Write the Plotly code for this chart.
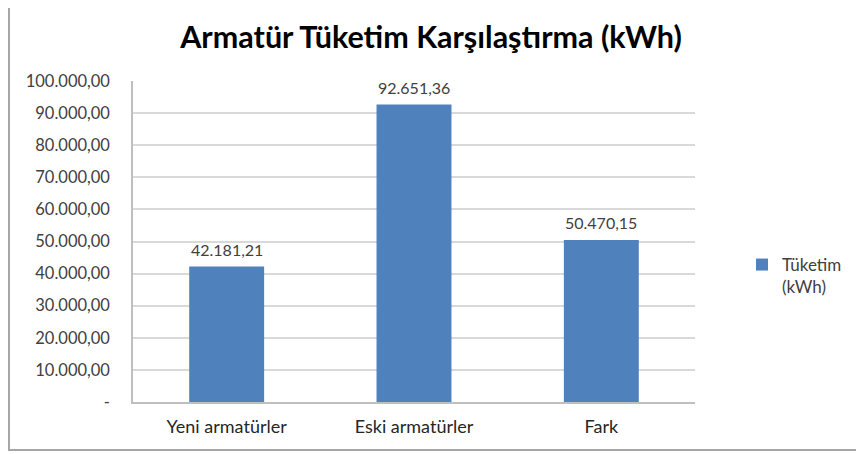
import plotly.graph_objects as go

categories = ["Yeni armatürler", "Eski armatürler", "Fark"]
values = [42181.21, 92651.36, 50470.15]
series_name = "Tüketim<br>(kWh)"
tick_values = [0, 10000, 20000, 30000, 40000, 50000, 60000, 70000, 80000, 90000, 100000]
tick_labels = ["-", "10.000,00", "20.000,00", "30.000,00", "40.000,00", "50.000,00",
               "60.000,00", "70.000,00", "80.000,00", "90.000,00", "100.000,00"]
title = "Armatür Tüketim Karşılaştırma (kWh)"

# page body has an 8px margin, so figure coordinates = reference pixels - 8
OFF = 8
W, H = 856, 446
L, R, T, B = 133 - OFF, 864 - 695, 81 - OFF, 454 - 402
pw, ph = W - L - R, H - T - B

def px_x(x):
    return (x - OFF - L) / pw

def px_y(y):
    return (H - B - (y - OFF)) / ph

def tr_fmt(v):
    s = f"{v:,.2f}"
    return s.replace(",", "X").replace(".", ",").replace("X", ".")

fig = go.Figure()
fig.add_trace(go.Bar(
    x=categories, y=values, name=series_name,
    marker=dict(color="#4f81bd", line=dict(width=0)),
))

for c, v in zip(categories, values):
    fig.add_annotation(x=c, y=v, text=tr_fmt(v), showarrow=False,
                       yanchor="bottom", yshift=6,
                       font=dict(family="Lato", size=16, color="#404040"))

fig.update_layout(
    width=W, height=H,
    margin=dict(l=L, r=R, t=T, b=B),
    paper_bgcolor="white", plot_bgcolor="white",
    separators=",.",
    bargap=0.6,
    font=dict(family="Lato", color="#404040"),
    title=dict(text=title, x=(431 - OFF) / W, xanchor="center", y=1 - (37 - OFF) / H, yanchor="middle",
               font=dict(family="Lato", size=30.5, color="#000000", weight="bold")),
    showlegend=True,
    legend=dict(x=px_x(742), y=px_y(276), xanchor="left", yanchor="middle",
                font=dict(family="Lato", size=17, color="#404040"),
                bgcolor="rgba(0,0,0,0)", itemwidth=30, valign="top"),
    xaxis=dict(showline=True, linecolor="#bfbfbf", linewidth=1.5, ticks="",
               tickfont=dict(family="Lato", size=18, color="#262626"),
               ticklabelstandoff=8),
    yaxis=dict(range=[0, 100000], tickvals=tick_values, ticktext=tick_labels,
               showgrid=True, gridcolor="#d9d9d9", gridwidth=1.5,
               showline=True, linecolor="#bfbfbf", linewidth=1.5,
               ticks="", zeroline=False,
               tickfont=dict(family="Lato", size=16.5, color="#404040"),
               ticklabelstandoff=18),
    shapes=[dict(type="rect", xref="paper", yref="paper",
                 x0=px_x(9), x1=px_x(870), y0=px_y(450), y1=px_y(3),
                 line=dict(color="#a6a6a6", width=2), fillcolor="rgba(0,0,0,0)", layer="below")],
)

fig.write_html("out.html")
